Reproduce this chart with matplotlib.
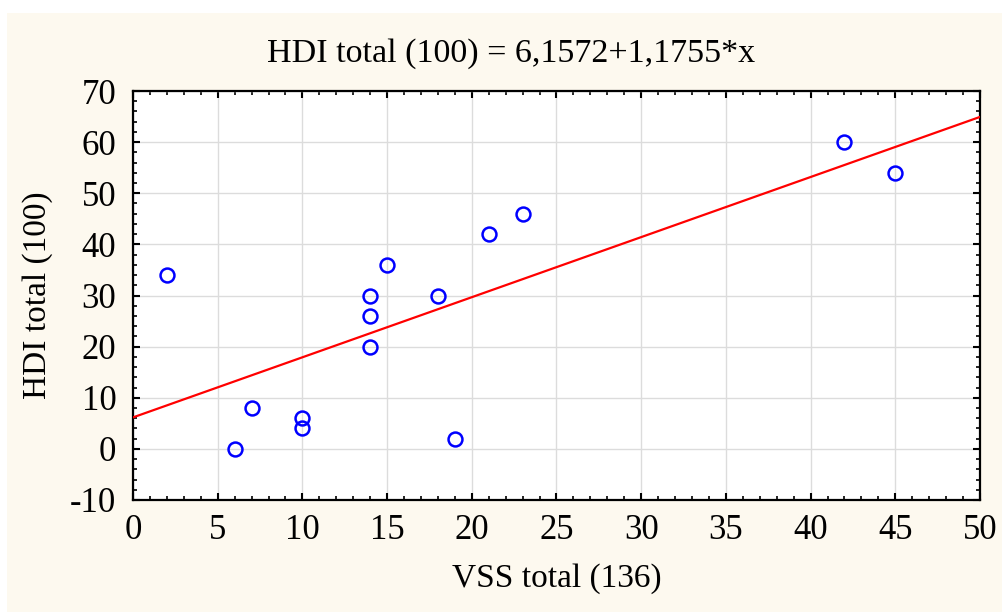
import matplotlib
matplotlib.use("Agg")
import matplotlib.pyplot as plt
import numpy as np
from matplotlib.patches import Rectangle
from matplotlib.ticker import MultipleLocator

# VSS total vs HDI total, one point per subject
vss_total = [2, 6, 7, 10, 10, 14, 14, 14, 15, 18, 19, 21, 23, 42, 45]
hdi_total = [34, 0, 8, 6, 4, 30, 26, 20, 36, 30, 2, 42, 46, 60, 54]

# fitted line HDI = a + b * VSS
intercept = 6.1572
slope = 1.1755

plt.rcParams["font.family"] = ["Liberation Serif", "DejaVu Serif"]
plt.rcParams["axes.unicode_minus"] = False

fig = plt.figure(figsize=(10.03, 6.12), dpi=100, facecolor="white")
fig.patches.append(Rectangle((7 / 1003, 0), 996 / 1003, 599 / 612,
                             transform=fig.transFigure, facecolor="#fdf9ef",
                             edgecolor="none", zorder=-1))

ax = fig.add_axes([133 / 1003, 1 - 500 / 612, 847 / 1003, 409 / 612])
ax.set_facecolor("white")

xs = np.array([0, 50])
ax.plot(xs, intercept + slope * xs, color="red", linewidth=1.6, zorder=3)
ax.plot(vss_total, hdi_total, linestyle="none", marker="o", markersize=10,
        markerfacecolor="none", markeredgecolor="blue", markeredgewidth=1.8,
        zorder=4)

ax.set_xlim(0, 50)
ax.set_ylim(-10, 70)
ax.xaxis.set_major_locator(MultipleLocator(5))
ax.xaxis.set_minor_locator(MultipleLocator(1))
ax.yaxis.set_major_locator(MultipleLocator(10))
ax.yaxis.set_minor_locator(MultipleLocator(2))
ax.grid(True, which="major", color="#dcdcdc", linewidth=1.0)
ax.set_axisbelow(True)

for s in ax.spines.values():
    s.set_linewidth(1.6)
    s.set_color("black")

ax.tick_params(which="both", direction="in", top=True, right=True,
               color="black", labelsize=25)
ax.tick_params(which="major", length=5, width=1.5)
ax.tick_params(which="minor", length=3, width=1.2)
ax.tick_params(axis="y", pad=12)
ax.tick_params(axis="x", pad=10)

fig.text(511 / 1003, 1 - 62 / 612, "HDI total (100) = 6,1572+1,1755*x",
         fontsize=24.5, ha="center", va="baseline")
ax.set_xlabel("VSS total (136)", fontsize=24, labelpad=12)
ax.set_ylabel("HDI total (100)", fontsize=24, labelpad=12)

fig.savefig("out.png", dpi=100, facecolor=fig.get_facecolor())
